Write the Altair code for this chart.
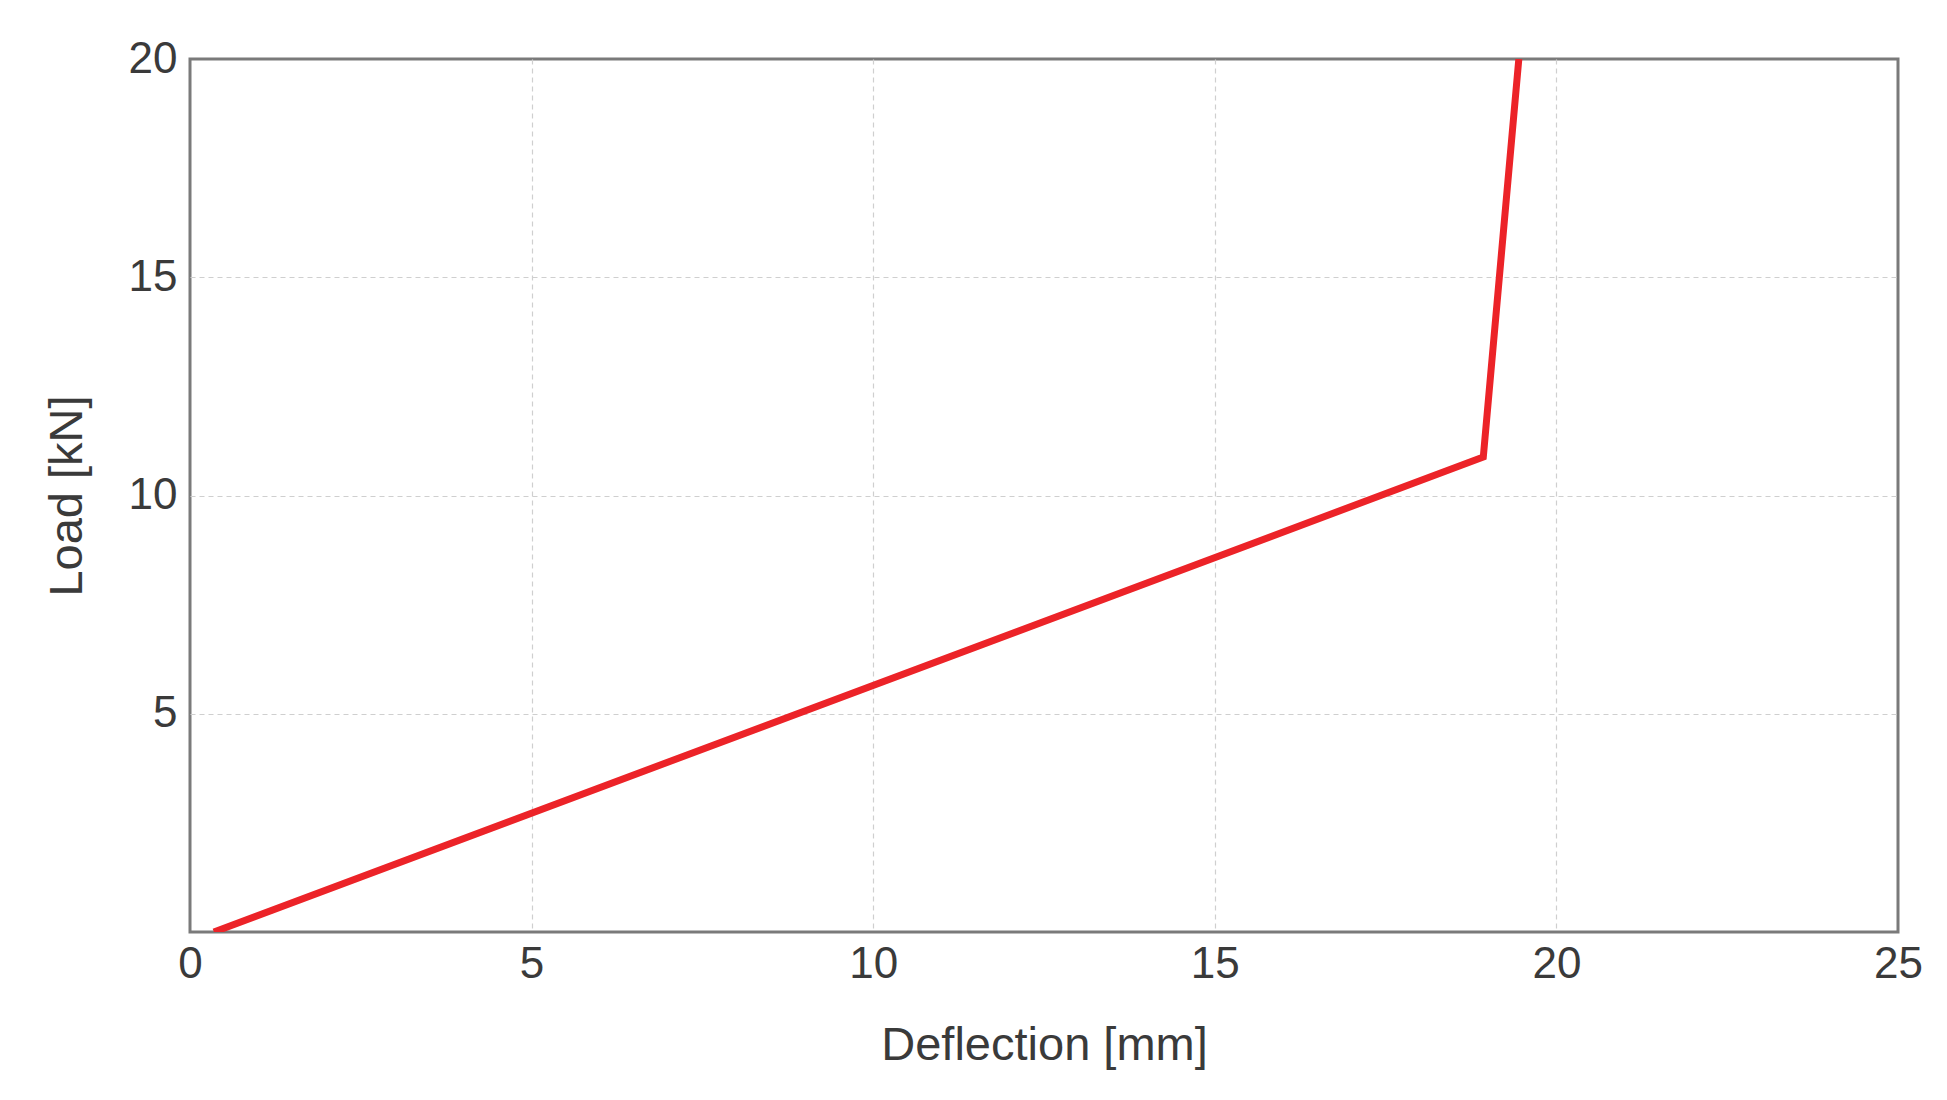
import altair as alt
import pandas as pd

deflection = [0.35, 18.93, 19.45]
load = [0.0, 10.88, 20.0]

df = pd.DataFrame({"Deflection": deflection, "Load": load})

W, H = 1708, 873
FONT = "Liberation Sans"

edge_x = alt.condition("datum.value == 0 || datum.value == 25", alt.value(0), alt.value(1))
edge_y = alt.condition("datum.value == 0 || datum.value == 20", alt.value(0), alt.value(1))

line = alt.Chart(df).mark_line(color="#ec2328", strokeWidth=7, clip=True).encode(
    x=alt.X("Deflection:Q",
            scale=alt.Scale(domain=[0, 25], nice=False, zero=False),
            axis=alt.Axis(values=[0, 5, 10, 15, 20, 25], title="Deflection  [mm]",
                          grid=True, gridDash=[5, 4], gridColor="#cfcfcf", gridWidth=1.2,
                          gridOpacity=edge_x,
                          domain=False, ticks=False, labelPadding=10, labelFlush=False,
                          labelFontSize=44, labelColor="#3a3a3a", labelFont=FONT,
                          titleFontSize=47, titleColor="#3a3a3a", titleFont=FONT,
                          titleFontWeight="normal", titleX=W / 2, titleY=127,
                          titleBaseline="alphabetic", titleAlign="center")),
    y=alt.Y("Load:Q",
            scale=alt.Scale(domain=[0, 20], nice=False, zero=False),
            axis=alt.Axis(values=[5, 10, 15, 20], title="Load [kN]",
                          grid=True, gridDash=[5, 4], gridColor="#cfcfcf", gridWidth=1.2,
                          gridOpacity=edge_y,
                          domain=False, ticks=False, labelPadding=13, labelFlush=False,
                          labelFontSize=44, labelColor="#3a3a3a", labelFont=FONT,
                          titleFontSize=47, titleColor="#3a3a3a", titleFont=FONT,
                          titleFontWeight="normal", titleX=-123, titleY=H / 2,
                          titleAngle=270, titleBaseline="middle", titleAlign="center")),
    order=alt.Order("Deflection:Q"),
)

chart = line.properties(
    width=W, height=H,
    autosize=alt.AutoSizeParams(type="none"),
    padding={"left": 182, "top": 51, "right": 40, "bottom": 160},
    background="white",
).configure_view(stroke="#7a7a7a", strokeWidth=3)

chart.save("out.html", embed_options={"renderer": "svg", "actions": False})
